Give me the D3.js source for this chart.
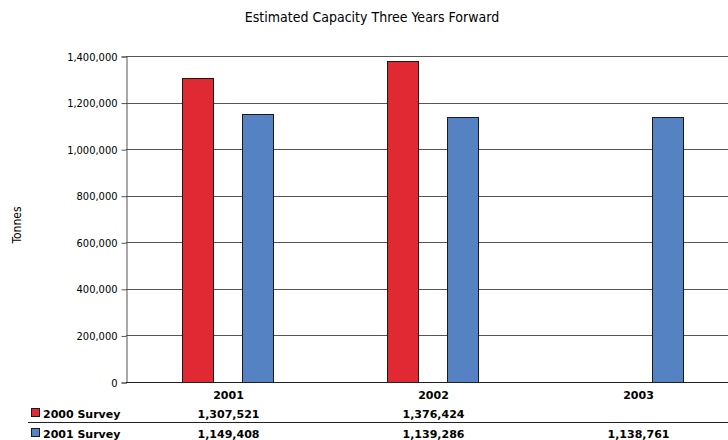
<!DOCTYPE html>
<head>
  <meta charset="utf-8">
  <title>Estimated Capacity</title>
  <style>
    body { margin: 0; background: #fff; }
    svg { display: block; }
    text { font-family: "DejaVu Sans Condensed", "DejaVu Sans", sans-serif; fill: #000; }
    .tbl text { font-family: "DejaVu Sans", sans-serif; font-weight: bold; font-size: 11px; }
  </style>
</head>
<body>
  <div id="chart"></div>
  <script src="https://cdn.jsdelivr.net/npm/d3@7"></script>
  <script type="text/javascript">

    var years = ["2001", "2002", "2003"];
    var seriesNames = ["2000 Survey", "2001 Survey"];
    var survey2000 = [1307521, 1376424, null];
    var survey2001 = [1149408, 1139286, 1138761];
    var yTicks = [0, 200000, 400000, 600000, 800000, 1000000, 1200000, 1400000];
    var colours = ["#e02932", "#5482c3"];

    var W = 728, H = 440;
    var plotLeft = 126, plotTop = 56, plotBottom = 382;

    var svg = d3.select("#chart").append("svg")
      .attr("width", W)
      .attr("height", H);

    var x = d3.scaleBand().domain(years).range([plotLeft, plotLeft + 615]);
    var y = d3.scaleLinear().domain([0, 1400000]).range([plotBottom, plotTop]);

    // title
    svg.append("text")
      .attr("x", 372).attr("y", 22)
      .attr("text-anchor", "middle")
      .style("font-size", "14px")
      .text("Estimated Capacity Three Years Forward");

    // y axis title
    svg.append("text")
      .attr("transform", "translate(21,225) rotate(-90)")
      .attr("text-anchor", "middle")
      .style("font-size", "12px")
      .text("Tonnes");

    // gridlines
    svg.append("g").selectAll("line")
      .data(yTicks)
      .join("line")
        .attr("x1", plotLeft).attr("x2", W)
        .attr("y1", d => Math.round(y(d)) + 0.5)
        .attr("y2", d => Math.round(y(d)) + 0.5)
        .attr("stroke", "#555")
        .attr("stroke-width", 1);

    // y axis
    var yAxis = d3.axisLeft(y)
      .tickValues(yTicks)
      .tickSize(5)
      .tickPadding(4)
      .tickFormat(d3.format(","));
    var ya = svg.append("g")
      .attr("transform", "translate(" + (plotLeft + 0.5) + ",0.5)")
      .call(yAxis);
    ya.select(".domain").attr("stroke", "#555");
    ya.selectAll(".tick line").attr("stroke", "#555");
    ya.selectAll(".tick text")
      .style("font-family", "'DejaVu Sans Condensed', sans-serif")
      .style("font-size", "11px")
      .attr("fill", "#000");

    // bars
    var series = [survey2000, survey2001];
    var offsets = [56, 116];
    var barW = 31;
    series.forEach(function(vals, si) {
      svg.append("g").selectAll("rect")
        .data(years.map((yr, i) => ({yr: yr, v: vals[i]})).filter(d => d.v != null))
        .join("rect")
          .attr("x", d => x(d.yr) + offsets[si] + 0.5)
          .attr("y", d => Math.round(y(d.v)) + 0.5)
          .attr("width", barW)
          .attr("height", d => plotBottom - Math.round(y(d.v)))
          .attr("fill", colours[si])
          .attr("stroke", "#1a1a1a")
          .attr("stroke-width", 1);
    });

    // x axis base line
    svg.append("line")
      .attr("x1", plotLeft).attr("x2", W)
      .attr("y1", plotBottom + 0.5).attr("y2", plotBottom + 0.5)
      .attr("stroke", "#222");

    // data table
    var tbl = svg.append("g").attr("class", "tbl");
    tbl.selectAll("text.cat")
      .data(years)
      .join("text")
        .attr("class", "cat")
        .attr("x", d => x(d) + x.bandwidth() / 2)
        .attr("y", 399)
        .attr("text-anchor", "middle")
        .text(d => d);

    var rowY = [418, 438];
    series.forEach(function(vals, si) {
      tbl.append("rect")
        .attr("x", 31.5).attr("y", rowY[si] - 9.5)
        .attr("width", 8).attr("height", 8)
        .attr("fill", colours[si])
        .attr("stroke", "#1a1a1a");
      tbl.append("text")
        .attr("x", 43).attr("y", rowY[si])
        .text(seriesNames[si]);
      tbl.selectAll("text.v" + si)
        .data(years.map((yr, i) => ({yr: yr, v: vals[i]})).filter(d => d.v != null))
        .join("text")
          .attr("class", "v" + si)
          .attr("x", d => x(d.yr) + x.bandwidth() / 2)
          .attr("y", rowY[si])
          .attr("text-anchor", "middle")
          .text(d => d3.format(",")(d.v));
    });

    tbl.append("line")
      .attr("x1", 28).attr("x2", W)
      .attr("y1", 422.5).attr("y2", 422.5)
      .attr("stroke", "#222");

  </script>
</body>
